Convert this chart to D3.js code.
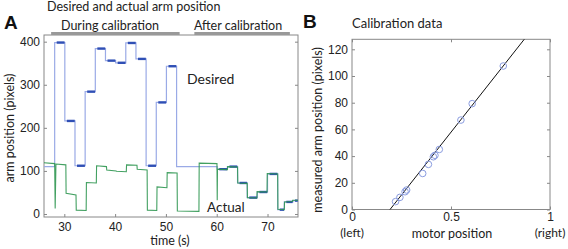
<!DOCTYPE html>
<html lang="en">
<head>
<meta charset="UTF-8">
<title>Arm position and calibration</title>
<script src="https://d3js.org/d3.v7.min.js"></script>
<style>
  body { margin: 0; background: #fff; }
  svg { display: block; font-family: Lato, "Noto Sans", sans-serif; }
</style>
</head>
<body>
<div id="chart"></div>
<script>
// Panel A: desired arm position, step boundaries (s) and levels (pixels)
const desiredT = [26, 28.1, 30.1, 32.1, 34.1, 36.1, 38.1, 40.1, 42.1, 44.1, 46.1, 48.1, 50.1, 52.1,
                  60.1, 62.1, 64.1, 66, 68, 70, 72, 73.3, 75, 76];
const desiredV = [110, 398, 216, 112, 284, 384, 356, 351, 397, 360, 112, 259, 343, 110,
                  104, 110, 72, 38, 51, 93, 10, 28, 31];
const desiredMarked = [0, 1, 1, 1, 1, 1, 1, 1, 1, 1, 1, 1, 1, 0,
                       1, 1, 1, 1, 1, 1, 1, 1, 1];

// Panel A: actual arm position (time, pixels)
const actualT = [26, 28.1, 28.2, 28.35, 30.3, 30.35, 32.3, 32.35, 34.3, 34.35, 36.3, 36.35, 38.3, 38.35,
                 40.2, 40.25, 42.2, 42.25, 44.3, 44.35, 46.3, 46.35, 48.2, 48.25, 50.2, 50.25, 52.2, 52.25,
                 56.5, 56.55, 60.05, 60.1, 60.15, 62.1, 62.15, 64.1, 64.15, 66, 66.05, 67.9, 67.95, 69.9,
                 69.95, 72, 72.05, 73.3, 73.35, 74.9, 74.95, 76];
const actualV = [119, 117, 13, 116, 114, 48, 44, 9, 8, 73, 72, 112, 110, 102,
                 100, 99, 98, 114, 113, 104, 102, 9, 8, 63, 61, 96, 95, 7,
                 6, 118, 117, 32, 104, 103, 110, 109, 72, 71, 38, 37, 52, 51,
                 94, 93, 11, 10, 28, 29, 32, 32];

const phases = [
  {label: "During calibration", t0: 27.4, t1: 52.7, tLabel: 39},
  {label: "After calibration", t0: 55.6, t1: 74.4, tLabel: 64.2}
];
const timeTicks = [30, 40, 50, 60, 70];
const armTicks = [0, 100, 200, 300, 400];

// Panel B: calibration points (motor position 0..1, measured pixels)
const motorPos = [0.22, 0.242, 0.268, 0.276, 0.357, 0.386, 0.411, 0.419, 0.441, 0.55, 0.607, 0.764];
const measured = [5.9, 9.1, 13.3, 14.6, 27, 33.8, 39.5, 40.6, 45, 67, 79.3, 107.5];
const fitLine = [[0.192, 0], [0.87, 127.5]];
const motorTicks = [0, 0.5, 1];
const motorTickLabels = ["0", "0.5", "1"];
const motorSideLabels = [[0, "(left)"], [1, "(right)"]];
const measuredTicks = [0, 20, 40, 60, 80, 100, 120];

const W = 568, H = 249;
const axisColor = "#888";
const textColor = "#222";

const svg = d3.select("#chart").append("svg")
  .attr("width", W).attr("height", H);

// ---------- Panel A ----------
const a = {left: 44, right: 298, top: 35, bottom: 217};
const xA = d3.scaleLinear().domain([26, 76]).range([a.left, a.right]);
const yA = d3.scaleLinear().domain([-7, 415.5]).range([a.bottom, a.top]);

function styleAxis(g) {
  g.select(".domain").remove();
  g.selectAll(".tick line").attr("stroke", axisColor);
  g.selectAll(".tick text").attr("fill", textColor).style("font-size", "12px");
}

svg.append("g").attr("transform", `translate(${a.left},0)`)
  .call(d3.axisLeft(yA).tickValues(armTicks).tickSize(-3).tickPadding(4))
  .call(styleAxis);
svg.append("g").attr("transform", `translate(${a.right},0)`)
  .call(d3.axisRight(yA).tickValues(armTicks).tickSize(-3).tickFormat(""))
  .call(styleAxis);
svg.append("g").attr("transform", `translate(0,${a.bottom})`)
  .call(d3.axisBottom(xA).tickValues(timeTicks).tickSize(-3).tickPadding(5))
  .call(styleAxis);

svg.append("rect")
  .attr("x", a.left).attr("y", a.top)
  .attr("width", a.right - a.left).attr("height", a.bottom - a.top)
  .attr("fill", "none").attr("stroke", axisColor).attr("stroke-width", 1);

// desired step line
const desiredPts = [];
desiredV.forEach((v, i) => {
  desiredPts.push([desiredT[i], v], [desiredT[i + 1], v]);
});
const lineA = d3.line().x(d => xA(d[0])).y(d => yA(d[1]));

svg.append("path").datum(desiredPts)
  .attr("d", lineA).attr("fill", "none")
  .attr("stroke", "#9aaae6").attr("stroke-width", 1.2);

// dark marks where desired target was held
svg.append("g").selectAll("line")
  .data(desiredV.map((v, i) => ({v, t0: desiredT[i] + 0.4, t1: desiredT[i + 1] - 0.05, m: desiredMarked[i]}))
    .filter(d => d.m))
  .join("line")
  .attr("x1", d => xA(d.t0)).attr("x2", d => xA(d.t1))
  .attr("y1", d => yA(d.v)).attr("y2", d => yA(d.v))
  .attr("stroke", "#2f4fb5").attr("stroke-width", 2.4);

// actual trace
svg.append("path").datum(actualT.map((t, i) => [t, actualV[i]]))
  .attr("d", lineA).attr("fill", "none")
  .attr("stroke", "#2e9650").attr("stroke-width", 1.1).attr("stroke-opacity", 0.9);

// phase bars
svg.append("g").selectAll("line").data(phases).join("line")
  .attr("x1", d => xA(d.t0)).attr("x2", d => xA(d.t1))
  .attr("y1", 33.5).attr("y2", 33.5)
  .attr("stroke", "#999").attr("stroke-width", 3);
svg.append("g").selectAll("text").data(phases).join("text")
  .attr("x", d => xA(d.tLabel)).attr("y", 29.5)
  .attr("text-anchor", "middle").attr("fill", textColor)
  .style("font-size", "12.5px").text(d => d.label);

svg.append("text").attr("x", 47).attr("y", 11)
  .attr("fill", textColor).style("font-size", "12.5px")
  .text("Desired and actual arm position");
svg.append("text").attr("x", 4).attr("y", 29)
  .attr("fill", "#111").style("font-size", "19px").style("font-weight", "bold")
  .style("font-family", "Arial, 'Liberation Sans', sans-serif").text("A");
svg.append("text").attr("transform", "translate(14,128) rotate(-90)")
  .attr("text-anchor", "middle").attr("fill", textColor).style("font-size", "12.5px")
  .text("arm position (pixels)");
svg.append("text").attr("x", 170).attr("y", 245)
  .attr("text-anchor", "middle").attr("fill", textColor).style("font-size", "12.5px")
  .text("time (s)");
svg.append("text").attr("x", 187).attr("y", 84)
  .attr("fill", textColor).style("font-size", "14px").text("Desired");
svg.append("text").attr("x", 207).attr("y", 212)
  .attr("fill", textColor).style("font-size", "13.5px").text("Actual");

// ---------- Panel B ----------
const b = {left: 352, right: 550, top: 39.3, bottom: 209.5};
const xB = d3.scaleLinear().domain([0, 1]).range([b.left, b.right]);
const yB = d3.scaleLinear().domain([0, 127.5]).range([b.bottom, b.top]);

svg.append("g").attr("transform", `translate(${b.left},0)`)
  .call(d3.axisLeft(yB).tickValues(measuredTicks).tickSize(-3).tickPadding(4))
  .call(styleAxis);
svg.append("g").attr("transform", `translate(${b.right},0)`)
  .call(d3.axisRight(yB).tickValues(measuredTicks).tickSize(-3).tickFormat(""))
  .call(styleAxis);
svg.append("g").attr("transform", `translate(0,${b.top})`)
  .call(d3.axisTop(xB).tickValues(motorTicks).tickSize(-3).tickFormat(""))
  .call(styleAxis);
svg.append("g").attr("transform", `translate(0,${b.bottom})`)
  .call(d3.axisBottom(xB).tickValues(motorTicks).tickSize(-3).tickPadding(3)
    .tickFormat((d, i) => motorTickLabels[i]))
  .call(styleAxis);

svg.append("g").selectAll("text").data(motorSideLabels).join("text")
  .attr("x", d => xB(d[0])).attr("y", 237)
  .attr("text-anchor", "middle").attr("fill", textColor).style("font-size", "12px")
  .text(d => d[1]);

svg.append("rect")
  .attr("x", b.left).attr("y", b.top)
  .attr("width", b.right - b.left).attr("height", b.bottom - b.top)
  .attr("fill", "none").attr("stroke", axisColor).attr("stroke-width", 1);

svg.append("path").datum(fitLine)
  .attr("d", d3.line().x(d => xB(d[0])).y(d => yB(d[1])))
  .attr("stroke", "#111").attr("stroke-width", 1).attr("fill", "none");

svg.append("g").selectAll("circle")
  .data(motorPos.map((m, i) => [m, measured[i]]))
  .join("circle")
  .attr("cx", d => xB(d[0])).attr("cy", d => yB(d[1])).attr("r", 3.3)
  .attr("fill", "none").attr("stroke", "#8b9de0").attr("stroke-width", 1);

svg.append("text").attr("x", 303).attr("y", 28)
  .attr("fill", "#111").style("font-size", "19px").style("font-weight", "bold")
  .style("font-family", "Arial, 'Liberation Sans', sans-serif").text("B");
svg.append("text").attr("x", 352).attr("y", 28)
  .attr("fill", textColor).style("font-size", "13px").text("Calibration data");
svg.append("text").attr("transform", "translate(322,130) rotate(-90)")
  .attr("text-anchor", "middle").attr("fill", textColor).style("font-size", "12.5px")
  .text("measured arm position (pixels)");
svg.append("text").attr("x", 452).attr("y", 238)
  .attr("text-anchor", "middle").attr("fill", textColor).style("font-size", "12.5px")
  .text("motor position");
</script>
</body>
</html>
